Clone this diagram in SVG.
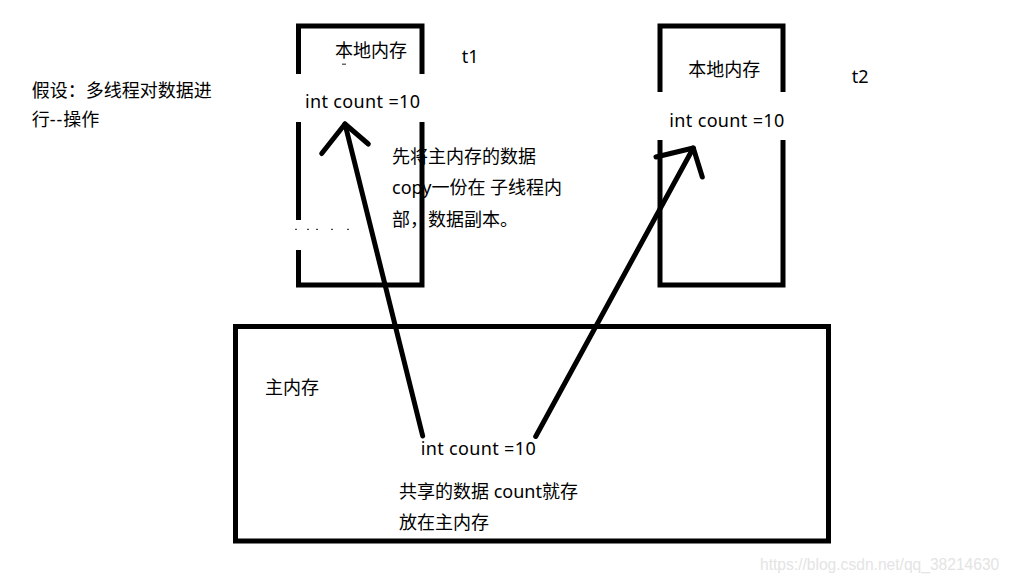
<svg xmlns="http://www.w3.org/2000/svg" width="1012" height="582" viewBox="0 0 1012 582">
<style>
.box{fill:none;stroke:#000;stroke-width:5;stroke-linejoin:miter;stroke-linecap:butt}
.arr{fill:none;stroke:#000;stroke-width:5;stroke-linecap:round;stroke-linejoin:round}
.t{font-family:"Noto Sans","Noto Sans CJK SC",sans-serif;font-size:18px;fill:#000}
.code{letter-spacing:0.35px}
.wm{font-family:"Liberation Sans",Arial,sans-serif;font-size:15.6px;fill:#e4e4e4}
.dot{fill:#444}
</style>
<rect width="1012" height="582" fill="#fff"/>
<g id="note">
<text class="t" x="31.7" y="97">假设：多线程对数据进</text>
<text class="t" x="31.7" y="125.5">行<tspan letter-spacing="1">--</tspan>操作</text>
</g>
<g id="t1-local">
<path class="box" d="M298.5,74 V26 H422 V74 M298.5,122 V220 M298.5,250 V285 H422 V122"/>
<text class="t" x="335" y="57">本地内存</text>
<rect class="dot" x="342" y="63.6" width="4" height="1.2"/>
<text class="t code" x="305" y="108">int count =10</text>
<rect class="dot" x="295" y="228.8" width="2" height="1.2"/>
<rect class="dot" x="307" y="228.8" width="2" height="1.2"/>
<rect class="dot" x="316" y="228.8" width="2" height="1.2"/>
<rect class="dot" x="331" y="228.8" width="2" height="1.2"/>
<rect class="dot" x="347" y="228.8" width="2" height="1.2"/>
</g>
<g id="t1-label"><text class="t" x="461.7" y="63">t1</text></g>
<g id="copy-note">
<text class="t" x="392" y="162.5">先将主内存的数据</text>
<text class="t" x="392" y="194">copy一份在 子线程内</text>
<text class="t" x="392" y="225.5">部，数据副本。</text>
</g>
<g id="t2-local">
<path class="box" d="M660,92 V26 H783 V92 M660,140 V285 H783 V140"/>
<text class="t" x="688.3" y="75.5">本地内存</text>
<text class="t code" x="669.3" y="126.5">int count =10</text>
</g>
<g id="t2-label"><text class="t" x="851.7" y="82.7">t2</text></g>
<g id="main-memory">
<rect class="box" x="235.5" y="326.5" width="593" height="214.5"/>
<text class="t" x="265" y="394">主内存</text>
<text class="t code" x="420.7" y="455">int count =10</text>
<text class="t" x="399" y="498">共享的数据 count就存</text>
<text class="t" x="399" y="529">放在主内存</text>
</g>
<g id="connectors">
<path class="arr" d="M422.7,436 L345,124"/>
<path class="arr" d="M321.7,153.5 L345,124 L368.3,144"/>
<path class="arr" d="M535.7,436.5 L693.3,148"/>
<path class="arr" d="M656,157 L693.3,148 L702.3,177"/>
</g>
<text class="wm" x="760" y="570">https://blog.csdn.net/qq_38214630</text>
</svg>
